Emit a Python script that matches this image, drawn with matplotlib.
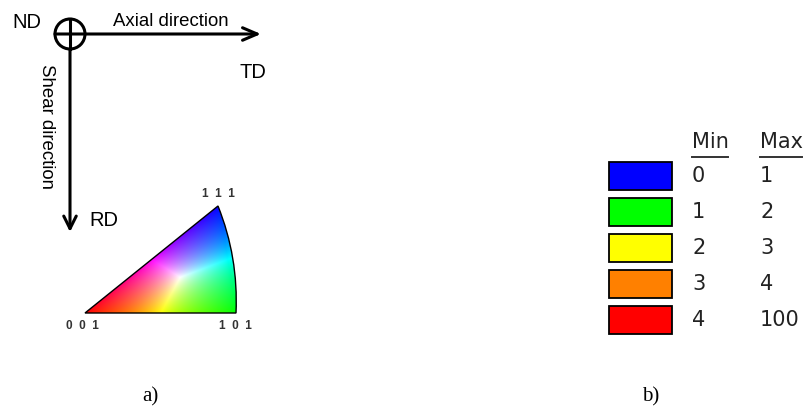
import numpy as np
import matplotlib
matplotlib.use("Agg")
import matplotlib.pyplot as plt
from matplotlib.patches import Circle, Rectangle, PathPatch
from matplotlib.path import Path

# legend of panel b)
bin_min = ["0", "1", "2", "3", "4"]
bin_max = ["1", "2", "3", "4", "100"]
bin_colors = ["#0000ff", "#00ff00", "#ffff00", "#ff8000", "#ff0000"]

# direction labels of panel a)
pole_labels = ["0  0  1", "1  0  1", "1  1  1"]
axis_labels = {"nd": "ND", "td": "TD", "rd": "RD",
               "axial": "Axial direction", "shear": "Shear direction"}
captions = ["a)", "b)"]

fig = plt.figure(figsize=(8.05, 4.10), dpi=100)
ax = fig.add_axes([0, 0, 1, 1])
ax.set_xlim(0, 805)
ax.set_ylim(410, 0)
ax.axis("off")

sans = "Liberation Sans"

# --- panel a: sample axes ---
ax.add_patch(Circle((70, 35), 15, fill=False, lw=2.2, color="black"))
ax.plot([70, 70], [20, 50], color="black", lw=2.2)
ax.annotate("", xy=(261, 35), xytext=(55, 35),
            arrowprops=dict(arrowstyle="->,head_length=0.7,head_width=0.3",
                            lw=2.2, color="black", mutation_scale=15,
                            shrinkA=0, shrinkB=0))
ax.annotate("", xy=(70, 233), xytext=(70, 50),
            arrowprops=dict(arrowstyle="->,head_length=0.6,head_width=0.3",
                            lw=2.2, color="black", mutation_scale=15,
                            shrinkA=0, shrinkB=0))

ax.text(27, 23, axis_labels["nd"], fontsize=14.5, family=sans, ha="center", va="center")
ax.text(171, 21, axis_labels["axial"], fontsize=13.4, family=sans, ha="center", va="center")
ax.text(253, 72, axis_labels["td"], fontsize=14.5, family=sans, ha="center", va="center")
ax.text(46, 127, axis_labels["shear"], fontsize=13.4, family=sans, ha="center",
        va="center", rotation=270)
ax.text(104, 221, axis_labels["rd"], fontsize=14.5, family=sans, ha="center", va="center")

# --- inverse pole figure colour key ---
A = np.array([85.0, 314.0])   # 001
B = np.array([236.0, 314.0])  # 101
C = np.array([218.0, 207.0])  # 111
ctrl = np.array([238.5, 258.0])

verts = [A, B, ctrl, C, A, A]
codes = [Path.MOVETO, Path.LINETO, Path.CURVE3, Path.CURVE3, Path.LINETO, Path.CLOSEPOLY]
tri_path = Path(verts, codes)

xs = np.linspace(80, 245, 330)
ys = np.linspace(200, 320, 240)
X, Y = np.meshgrid(xs, ys)
T = np.array([[A[0] - C[0], B[0] - C[0]], [A[1] - C[1], B[1] - C[1]]])
Tinv = np.linalg.inv(T)
dx = X - C[0]
dy = Y - C[1]
wa = Tinv[0, 0] * dx + Tinv[0, 1] * dy
wb = Tinv[1, 0] * dx + Tinv[1, 1] * dy
wc = 1 - wa - wb
W = np.clip(np.stack([wa, wb, wc], axis=-1), 0, None)
W = W / np.maximum(W.max(axis=-1, keepdims=True), 1e-9)
W = W ** 0.8
img = ax.imshow(W, origin="lower", extent=(xs[0], xs[-1], ys[0], ys[-1]),
                interpolation="bilinear", aspect="auto", zorder=1)
ax.set_xlim(0, 805)
ax.set_ylim(410, 0)
clip = PathPatch(tri_path, transform=ax.transData, facecolor="none", edgecolor="none")
ax.add_patch(clip)
img.set_clip_path(clip)
ax.add_patch(PathPatch(tri_path, facecolor="none", edgecolor="black", lw=1.0, zorder=2))

pole_style = dict(fontsize=8.5, fontweight="bold", color="#333333", family=sans,
                  ha="center", va="center")
ax.text(82, 326, pole_labels[0], **pole_style)
ax.text(235, 326, pole_labels[1], **pole_style)
ax.text(218, 194, pole_labels[2], **pole_style)

# --- panel b: legend table ---
ax.text(692, 142, "Min", fontsize=15, family="DejaVu Sans", color="#222222",
        ha="left", va="center")
ax.text(760, 142, "Max", fontsize=15, family="DejaVu Sans", color="#222222",
        ha="left", va="center")
ax.plot([692, 728], [158, 158], color="#333333", lw=1.4)
ax.plot([760, 802], [158, 158], color="#333333", lw=1.4)

row_y = 176.5
for lo, hi, col in zip(bin_min, bin_max, bin_colors):
    ax.add_patch(Rectangle((609, row_y - 14), 63, 28, facecolor=col,
                           edgecolor="black", lw=1.3))
    ax.text(692, row_y, lo, fontsize=15, family="DejaVu Sans", color="#222222",
            ha="left", va="center")
    ax.text(760, row_y, hi, fontsize=15, family="DejaVu Sans", color="#222222",
            ha="left", va="center")
    row_y += 36

# --- panel captions ---
ax.text(150, 397, captions[0], fontsize=15, family="Liberation Serif", ha="center", va="center")
ax.text(651, 397, captions[1], fontsize=15, family="Liberation Serif", ha="center", va="center")

fig.savefig("out.png", dpi=100)
